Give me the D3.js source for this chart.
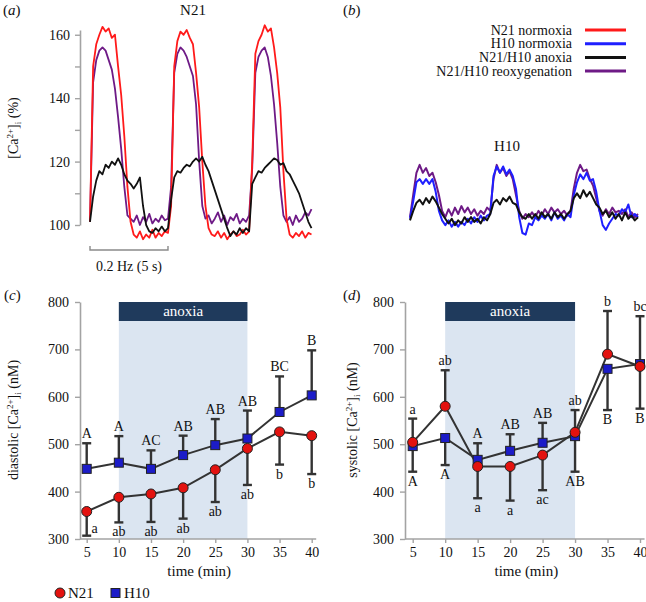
<!DOCTYPE html>
<html><head><meta charset="utf-8">
<script src="https://cdn.jsdelivr.net/npm/d3@7"></script>
<style>
body{margin:0;background:#fff}
svg{display:block}
text{font-family:"Liberation Serif","Times New Roman",serif;fill:#111}
</style>
</head><body>
<svg id="chart" width="646" height="602"></svg>
<script>
// ---------- DATA ----------
const traceStep = 0.2; // s per sample
const traceDuration = 14.2; // s
// Panel (a) N21 traces, % of baseline
const n21Normoxia = [101,150,157,160,162.5,161,162,159,160,150,141,128,112,101,97,96,98,95.5,97,96,98.5,96,97.5,96.5,98,97.5,106,150,158,161,160,161.5,159,157,148,137,120,106,99,97,96.5,98,96,97.5,95.5,97,98,96.5,97,98.5,97,98,120,154,158,160,163,161,162,156,148,137,117,102,97,96,97.5,96.5,98,96,97.5,97];
const n21Reoxy = [101,145,152,155,156,155,152,149,143,134,124,112,103,102,101,103,100,102.5,101,103.5,100.5,102,101,103,101.5,102,112,148,154,156,155,153,150,147,138,120,106,102,103,100.5,102,104,101,103,100,102.5,101.5,103.5,100.5,102,101,103,118,148,153,155,156,153,147,138,126,112,103,101,102.5,100,103,101,102,104,103,105];
const n21Anoxia = [101,109,114,117,116,119,118,120,119,121,119,116,114,113,111.5,113,115,106,100,98,97.5,99,98,99.5,98,99,108,115,117,116.5,118,119,118.5,120,121,120,121.5,119,117,114,111,108,105,102,99,96.5,98,97,99,97.5,99,98,113,115,117,116.5,118,119,120,121,120.5,119,119.5,117,116,114,112,110,107,104,101,99];
// Panel (b) H10 traces
const h10Normoxia = [98.5,104,110,111,109.5,111,109.5,111,107,101,98,96.5,98,96,97.5,96,97.5,96.5,98.5,97,99,97.5,99.5,98,99.5,100,112,115,113,115,112.5,114,112,108,99,94,93.5,97,96.5,99,98,99.5,98.5,100,98,100.5,98.5,99.5,98,100,99,106,110,112.5,111,113,110.5,111,107,101,96.5,95,97,98.5,100,99.5,101.5,100.5,103,99,100,99];
const h10Reoxy = [99,106,113,115.5,113,114.5,112,113,110,106,101,99,101.5,99.5,102,100,102.5,100.5,102,100,101.5,99.5,101,100,102,101,111,115.5,113,114.5,112,113.5,111,106,101,98.5,100,99,100.5,99,101,99.5,101.5,100,102,100.5,101.5,100,101,99.5,101,108,113,115.5,113.5,114,111,109,105,101,99.5,101.5,100,102,100.5,101,100,101.5,99,100.5,99,100];
const h10Anoxia = [98,101,103.5,104.5,103,105,103.5,105.5,104,102,100,98.5,97,98.5,96.5,98,97,99,97.5,99,97.5,98.5,97,99,98,100,103.5,104.5,103,105,104,105.5,103.5,103,100.5,99,98.5,100,98.5,100,98.5,100.5,99,100,98.5,100.5,99,100,98.5,100,101,105,106.5,105,107.5,105.5,107,105,103,102,100,101,99,100.5,98.5,100,98,100.5,98.5,99.5,98,99];
const pctTicks = [100,110,120,130,140,150,160];
const traceLegend = ["N21 normoxia","H10 normoxia","N21/H10 anoxia","N21/H10 reoxygenation"];

// Panels (c),(d)
const timePoints = [5,10,15,20,25,30,35,40];
const timeTicks = [5,10,15,20,25,30,35,40];
const nmTicks = [300,400,500,600,700,800];
const anoxiaStart = 10, anoxiaEnd = 30;
const diaN21 = [358,388,395,408,446,491,526,518];
const diaN21Err = [307,335,336,343,378,414,457,437];
const diaH10 = [448,461,448,477,498,512,568,603];
const diaH10Err = [502,517,487,518,553,571,643,698];
const diaN21Lbl = ["a","ab","ab","ab","ab","ab","b","b"];
const diaH10Lbl = ["A","A","AC","AB","AB","AB","BC","B"];
const sysN21 = [504,580,453,453,477,525,690,664];
const sysN21Err = [554,656,386,381,403,572,781,770];
const sysH10 = [496,513,467,486,503,517,659,669];
const sysH10Err = [442,456,502,521,545,442,572,575];
const sysN21Lbl = ["a","ab","a","a","ac","ab","b","bc"];
const sysH10Lbl = ["A","A","A","AB","AB","AB","B","B"];

// ---------- STYLE ----------
const C = {red:"#ff1a1a", blue:"#1f1fff", black:"#111111", purple:"#6e1a86",
  axis:"#a3a3a3", dark:"#1f3a5c", light:"#dbe5f1", bar:"#333333",
  mRed:"#e3120f", mBlue:"#1c1cc8"};
const svg = d3.select("#chart");

function ylabel(g, x, y, pre, post){
  const t = g.append("text").attr("transform",`translate(${x},${y}) rotate(-90)`)
    .attr("text-anchor","middle").attr("font-size",14);
  t.append("tspan").text(pre + "[Ca");
  t.append("tspan").text("2+").attr("font-size",9).attr("dy",-5);
  t.append("tspan").text("]").attr("dy",5);
  t.append("tspan").text("i").attr("font-size",9).attr("dy",3);
  t.append("tspan").text(" " + post).attr("dy",-3);
}
function styleAxis(g){
  g.selectAll(".domain").attr("stroke",C.axis).attr("stroke-width",1.6);
  g.selectAll(".tick line").attr("stroke",C.axis).attr("stroke-width",1.4);
  g.selectAll(".tick text").attr("font-family",'"Liberation Serif",serif').attr("font-size",14).attr("fill","#111");
}
function panelLabel(x, y, letter){
  const t = svg.append("text").attr("x",x).attr("y",y).attr("font-size",15);
  t.append("tspan").text("(");
  t.append("tspan").text(letter).attr("font-style","italic");
  t.append("tspan").text(")");
}

// ---------- PANEL A ----------
const xA = d3.scaleLinear().domain([0, traceDuration]).range([90, 311.5]);
const yA = d3.scaleLinear().domain([100, 161.5]).range([225, 30]);
const gAy = svg.append("g").attr("transform","translate(80,0)")
  .call(d3.axisLeft(yA).tickValues(pctTicks).tickSize(5).tickSizeOuter(0).tickPadding(5)
    .tickFormat(d => d % 20 === 0 ? d : ""));
styleAxis(gAy);
ylabel(svg, 18, 128, "", "(%)");
svg.append("text").attr("x",193).attr("y",15).attr("text-anchor","middle").attr("font-size",15).text("N21");
panelLabel(3, 15, "a");

const lineA = d3.line().x((d,i)=>xA(i*traceStep)).y(d=>yA(d));
[[n21Reoxy,C.purple],[n21Normoxia,C.red],[n21Anoxia,C.black]].forEach(([d,c])=>{
  svg.append("path").datum(d).attr("d",lineA).attr("fill","none").attr("stroke",c)
    .attr("stroke-width",1.8).attr("stroke-linejoin","round");
});
// scale bar 5 s
const sb = svg.append("g").attr("stroke","#8a8a8a").attr("stroke-width",1.4).attr("fill","none");
sb.append("path").attr("d",`M${xA(0)},246V250H${xA(5)}V246`);
svg.append("text").attr("x",(xA(0)+xA(5))/2).attr("y",271).attr("text-anchor","middle")
  .attr("font-size",14).text("0.2 Hz (5 s)");

// ---------- PANEL B ----------
const xB = d3.scaleLinear().domain([0, traceDuration]).range([410, 638]);
const yB = d3.scaleLinear().domain([100, 120]).range([214, 214 - 63.4]);
const lineB = d3.line().x((d,i)=>xB(i*traceStep)).y(d=>yB(d));
[[h10Reoxy,C.purple],[h10Normoxia,C.blue],[h10Anoxia,C.black]].forEach(([d,c])=>{
  svg.append("path").datum(d).attr("d",lineB).attr("fill","none").attr("stroke",c)
    .attr("stroke-width",2).attr("stroke-linejoin","round");
});
svg.append("text").attr("x",507).attr("y",151).attr("text-anchor","middle").attr("font-size",15).text("H10");
panelLabel(343, 15, "b");
const legCols = [C.red, C.blue, C.black, C.purple];
traceLegend.forEach((name,i)=>{
  const y = 30 + i*13.7;
  svg.append("text").attr("x",572).attr("y",y+4.5).attr("text-anchor","end").attr("font-size",14).text(name);
  svg.append("line").attr("x1",585).attr("x2",626).attr("y1",y).attr("y2",y)
    .attr("stroke",legCols[i]).attr("stroke-width",3);
});

// ---------- PANELS C, D ----------
function errPanel(opt){
  const {x0, x5, x40, yl, label, n21, n21e, h10, h10e, nl, hl} = opt;
  const x = d3.scaleLinear().domain([5,40]).range([x5, x40]);
  const y = d3.scaleLinear().domain([300,800]).range([539, 302]);
  const g = svg.append("g");
  // anoxia shading
  g.append("rect").attr("x",x(anoxiaStart)).attr("width",x(anoxiaEnd)-x(anoxiaStart))
    .attr("y",y(800)).attr("height",y(300)-y(800)).attr("fill",C.light);
  g.append("rect").attr("x",x(anoxiaStart)).attr("width",x(anoxiaEnd)-x(anoxiaStart))
    .attr("y",y(800)).attr("height",19).attr("fill",C.dark);
  g.append("text").attr("x",(x(anoxiaStart)+x(anoxiaEnd))/2).attr("y",y(800)+14)
    .attr("text-anchor","middle").attr("font-size",15).style("fill","#fff").text("anoxia");
  // axes
  const ax = g.append("g").attr("transform",`translate(${x0},0)`)
    .call(d3.axisLeft(y).tickValues(nmTicks).tickSize(5).tickSizeOuter(0).tickPadding(6));
  styleAxis(ax);
  const bx = g.append("g").attr("transform",`translate(0,${y(300)})`)
    .call(d3.axisBottom(x).tickValues(timeTicks).tickSize(4).tickSizeOuter(0).tickPadding(4));
  bx.select(".domain").attr("d",`M${x0},0H${x(40.7)}`);
  styleAxis(bx);
  g.append("text").attr("x",(x(5)+x(40))/2).attr("y",576).attr("text-anchor","middle")
    .attr("font-size",15).text("time (min)");
  ylabel(g, opt.ylx, 420, yl, "(nM)");
  panelLabel(opt.plx, 300, label);

  const line = d3.line().x((d,i)=>x(timePoints[i])).y(d=>y(d));
  [[h10,h10e],[n21,n21e]].forEach(([v,e])=>{
    g.append("path").datum(v).attr("d",line).attr("fill","none").attr("stroke",C.bar).attr("stroke-width",2);
    v.forEach((val,i)=>{
      const xx = x(timePoints[i]);
      g.append("line").attr("x1",xx).attr("x2",xx).attr("y1",y(val)).attr("y2",y(e[i]))
        .attr("stroke",C.bar).attr("stroke-width",2.4);
      g.append("line").attr("x1",xx-4.5).attr("x2",xx+4.5).attr("y1",y(e[i])).attr("y2",y(e[i]))
        .attr("stroke",C.bar).attr("stroke-width",2.4);
    });
  });
  // markers
  h10.forEach((v,i)=>{
    g.append("rect").attr("x",x(timePoints[i])-4.5).attr("y",y(v)-4.5).attr("width",9).attr("height",9)
      .attr("fill",C.mBlue).attr("stroke","#222").attr("stroke-width",1);
  });
  n21.forEach((v,i)=>{
    g.append("circle").attr("cx",x(timePoints[i])).attr("cy",y(v)).attr("r",5)
      .attr("fill",C.mRed).attr("stroke","#222").attr("stroke-width",1);
  });
  // significance letters
  function letters(vals, errs, lbls){
    lbls.forEach((t,i)=>{
      const xx = x(timePoints[i]);
      const ye = y(errs[i]);
      let tx = xx, ty;
      if (errs[i] > vals[i]) ty = ye - 5;
      else if (ye + 14 > y(300)) { tx = xx + 8; ty = ye - 3; }
      else ty = ye + 14;
      g.append("text").attr("x",tx).attr("y",ty).attr("text-anchor","middle")
        .attr("font-size",14).text(t);
    });
  }
  letters(h10, h10e, hl);
  letters(n21, n21e, nl);
}
errPanel({x0:80, x5:86.7, x40:311.7, yl:"diastolic ", label:"c", ylx:18, plx:4,
  n21:diaN21, n21e:diaN21Err, h10:diaH10, h10e:diaH10Err, nl:diaN21Lbl, hl:diaH10Lbl});
errPanel({x0:405, x5:412.7, x40:640, yl:"systolic ", label:"d", ylx:357, plx:343,
  n21:sysN21, n21e:sysN21Err, h10:sysH10, h10e:sysH10Err, nl:sysN21Lbl, hl:sysH10Lbl});

// bottom legend
svg.append("circle").attr("cx",60).attr("cy",593).attr("r",5).attr("fill",C.mRed).attr("stroke","#222");
svg.append("text").attr("x",68).attr("y",598).attr("font-size",15).text("N21");
svg.append("rect").attr("x",111).attr("y",588.5).attr("width",9).attr("height",9).attr("fill",C.mBlue).attr("stroke","#222");
svg.append("text").attr("x",124).attr("y",598).attr("font-size",15).text("H10");
</script>
</body></html>
